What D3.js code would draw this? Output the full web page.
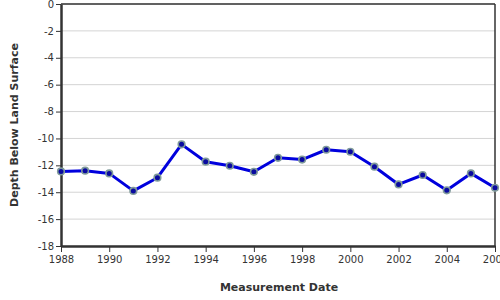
<!DOCTYPE html>
<html><head><meta charset="utf-8">
<script src="https://cdn.jsdelivr.net/npm/d3@7"></script>
<style>
html,body{margin:0;padding:0;background:#fff;}
svg{display:block;font-family:"DejaVu Sans",sans-serif;}
</style></head>
<body>
<svg id="chart" width="500" height="300"></svg>
<script>
const years = [1988,1989,1990,1991,1992,1993,1994,1995,1996,1997,1998,1999,2000,2001,2002,2003,2004,2005,2006];
const depths = [-12.45,-12.4,-12.6,-13.9,-12.92,-10.44,-11.73,-12.03,-12.48,-11.44,-11.57,-10.84,-10.99,-12.1,-13.42,-12.72,-13.86,-12.6,-13.67];
const xTicks = [1988,1990,1992,1994,1996,1998,2000,2002,2004,2006];
const yTicks = [0,-2,-4,-6,-8,-10,-12,-14,-16,-18];

const svg = d3.select("#chart");
const L = 61, R = 495, T = 4, B = 246;
const x = d3.scaleLinear().domain([1988,2006]).range([L,R]);
const y = d3.scaleLinear().domain([-18,0]).range([B,T]);

// grid
svg.append("g").selectAll("line").data(yTicks).join("line")
  .attr("x1",L).attr("x2",R).attr("y1",d=>y(d)).attr("y2",d=>y(d))
  .attr("stroke","#d4d4d4").attr("stroke-width",1);

// frame top & right
svg.append("line").attr("x1",L).attr("x2",R).attr("y1",T).attr("y2",T).attr("stroke","#333").attr("stroke-width",1.5);
svg.append("line").attr("x1",R).attr("x2",R).attr("y1",T).attr("y2",B).attr("stroke","#333").attr("stroke-width",1.5);

// axes
const yAxis = svg.append("g").attr("transform",`translate(${L},0)`)
  .call(d3.axisLeft(y).tickValues(yTicks).tickFormat(d=>String(d)).tickSize(5).tickSizeOuter(0));
const xAxis = svg.append("g").attr("transform",`translate(0,${B})`)
  .call(d3.axisBottom(x).tickValues(xTicks).tickFormat(d=>String(d)).tickSize(6).tickSizeOuter(0));
[yAxis,xAxis].forEach(a=>{
  a.select(".domain").attr("stroke","#333").attr("stroke-width",2.5);
  a.selectAll(".tick line").attr("stroke","#333").attr("stroke-width",1);
  a.selectAll(".tick text").attr("fill","#333").style("font-size","10px").style("font-family","DejaVu Sans, sans-serif");
});
yAxis.selectAll(".tick text").attr("x",-7);
xAxis.selectAll(".tick text").attr("y",10);

// line
svg.append("path").datum(years.map((yr,i)=>[yr,depths[i]]))
  .attr("fill","none").attr("stroke","#0000dd").attr("stroke-width",3).attr("stroke-linejoin","round")
  .attr("d",d3.line().x(d=>x(d[0])).y(d=>y(d[1])));

svg.append("g").selectAll("circle").data(years.map((yr,i)=>[yr,depths[i]])).join("circle")
  .attr("cx",d=>x(d[0])).attr("cy",d=>y(d[1])).attr("r",3.3)
  .attr("fill","#0a0aa0").attr("stroke","#7f9a9a").attr("stroke-width",1.6);

// titles
svg.append("text").attr("x",279).attr("y",291).attr("text-anchor","middle")
  .style("font-size","11px").style("font-weight","bold").attr("fill","#333").text("Measurement Date");
svg.append("text").attr("transform","translate(18,125) rotate(-90)").attr("text-anchor","middle")
  .style("font-size","11px").style("font-weight","bold").attr("fill","#333").text("Depth Below Land Surface");
</script>
</body></html>
